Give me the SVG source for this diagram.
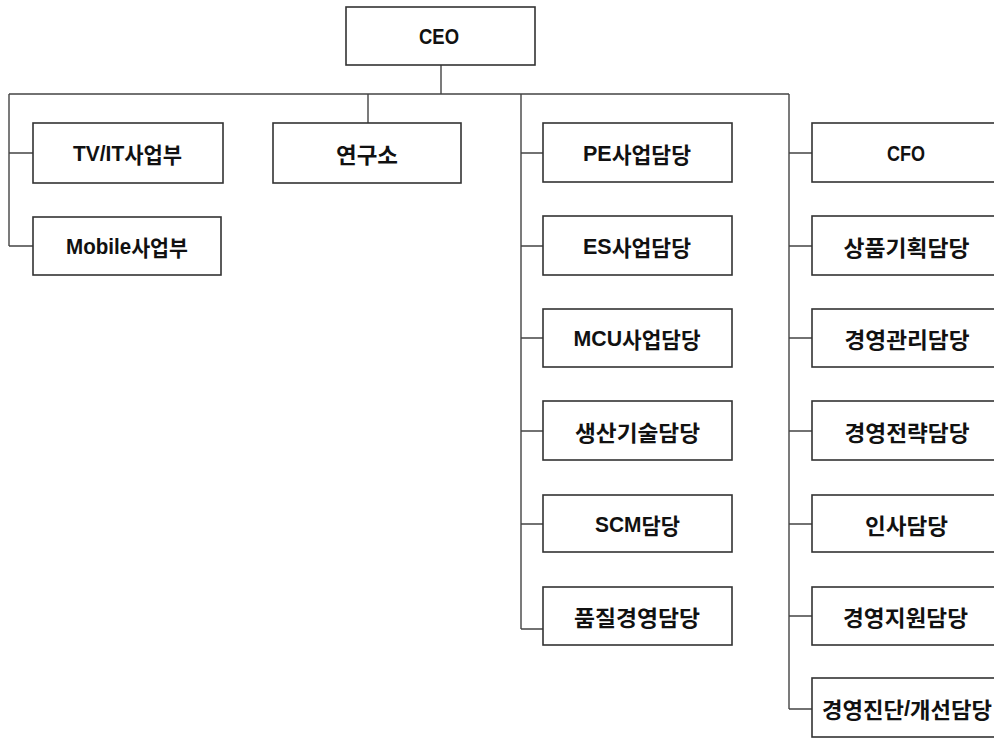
<svg xmlns="http://www.w3.org/2000/svg" width="994" height="738" viewBox="0 0 994 738">
<style>
.box{fill:#fff;stroke:#333;stroke-width:1.6}
.lbl{font-family:"Noto Sans CJK KR","Liberation Sans",sans-serif;font-weight:bold;font-size:22px;fill:#111;text-anchor:middle;dominant-baseline:central}
.lat{font-family:"Liberation Sans","Noto Sans CJK KR",sans-serif}
.con{fill:none;stroke:#444;stroke-width:1.4}
</style>
<rect width="994" height="738" fill="#fff"/>
<g id="connectors">
<path class="con" d="M441,65V94M9,94H789M368,94V123"/>
<path class="con" d="M9,94V246M9,153H33M9,246H33"/>
<path class="con" d="M521,94V629M521,153H543M521,246H543M521,338H543M521,431H543M521,524H543M521,629H543"/>
<path class="con" d="M789,94V709M789,153H812M789,246H812M789,338H812M789,431H812M789,524H812M789,616H812M789,709H812"/>
</g>
<g id="ceo"><rect class="box" x="346" y="7" width="189" height="58"/><text class="lbl" x="439" y="36" textLength="40" lengthAdjust="spacingAndGlyphs"><tspan class="lat">CEO</tspan></text></g>
<g id="tvit"><rect class="box" x="33" y="123" width="190" height="60"/><text class="lbl" x="127.5" y="153" textLength="109" lengthAdjust="spacingAndGlyphs"><tspan class="lat">TV/IT</tspan>사업부</text></g>
<g id="mobile"><rect class="box" x="33" y="217" width="188" height="58"/><text class="lbl" x="127" y="246" textLength="122" lengthAdjust="spacingAndGlyphs"><tspan class="lat">Mobile</tspan>사업부</text></g>
<g id="lab"><rect class="box" x="273" y="123" width="188" height="60"/><text class="lbl" x="367" y="153" textLength="62" lengthAdjust="spacingAndGlyphs">연구소</text></g>
<g id="pe"><rect class="box" x="543" y="123" width="189" height="59"/><text class="lbl" x="637" y="152.5" textLength="108" lengthAdjust="spacingAndGlyphs"><tspan class="lat">PE</tspan>사업담당</text></g>
<g id="es"><rect class="box" x="543" y="216" width="189" height="59"/><text class="lbl" x="637" y="245.5" textLength="108" lengthAdjust="spacingAndGlyphs"><tspan class="lat">ES</tspan>사업담당</text></g>
<g id="mcu"><rect class="box" x="543" y="309" width="189" height="58"/><text class="lbl" x="637" y="338" textLength="127" lengthAdjust="spacingAndGlyphs"><tspan class="lat">MCU</tspan>사업담당</text></g>
<g id="prod"><rect class="box" x="543" y="401" width="189" height="59"/><text class="lbl" x="637.5" y="430.5" textLength="125" lengthAdjust="spacingAndGlyphs">생산기술담당</text></g>
<g id="scm"><rect class="box" x="543" y="495" width="189" height="57"/><text class="lbl" x="637.5" y="523.5" textLength="85" lengthAdjust="spacingAndGlyphs"><tspan class="lat">SCM</tspan>담당</text></g>
<g id="qm"><rect class="box" x="543" y="587" width="189" height="58"/><text class="lbl" x="637" y="616" textLength="126" lengthAdjust="spacingAndGlyphs">품질경영담당</text></g>
<g id="cfo"><rect class="box" x="812" y="123" width="190" height="59"/><text class="lbl" x="906" y="152.5" textLength="38" lengthAdjust="spacingAndGlyphs"><tspan class="lat">CFO</tspan></text></g>
<g id="plan"><rect class="box" x="812" y="216" width="190" height="59"/><text class="lbl" x="906.5" y="245.5" textLength="126" lengthAdjust="spacingAndGlyphs">상품기획담당</text></g>
<g id="mgmt"><rect class="box" x="812" y="309" width="190" height="58"/><text class="lbl" x="907" y="338" textLength="125" lengthAdjust="spacingAndGlyphs">경영관리담당</text></g>
<g id="strat"><rect class="box" x="812" y="401" width="190" height="59"/><text class="lbl" x="907" y="430.5" textLength="125" lengthAdjust="spacingAndGlyphs">경영전략담당</text></g>
<g id="hr"><rect class="box" x="812" y="495" width="190" height="57"/><text class="lbl" x="906.5" y="523.5" textLength="83" lengthAdjust="spacingAndGlyphs">인사담당</text></g>
<g id="support"><rect class="box" x="812" y="587" width="190" height="58"/><text class="lbl" x="905.5" y="616" textLength="125" lengthAdjust="spacingAndGlyphs">경영지원담당</text></g>
<g id="diag"><rect class="box" x="812" y="678" width="190" height="59"/><text class="lbl" x="907" y="707.5" textLength="170" lengthAdjust="spacingAndGlyphs">경영진단<tspan class="lat">/</tspan>개선담당</text></g>
</svg>
